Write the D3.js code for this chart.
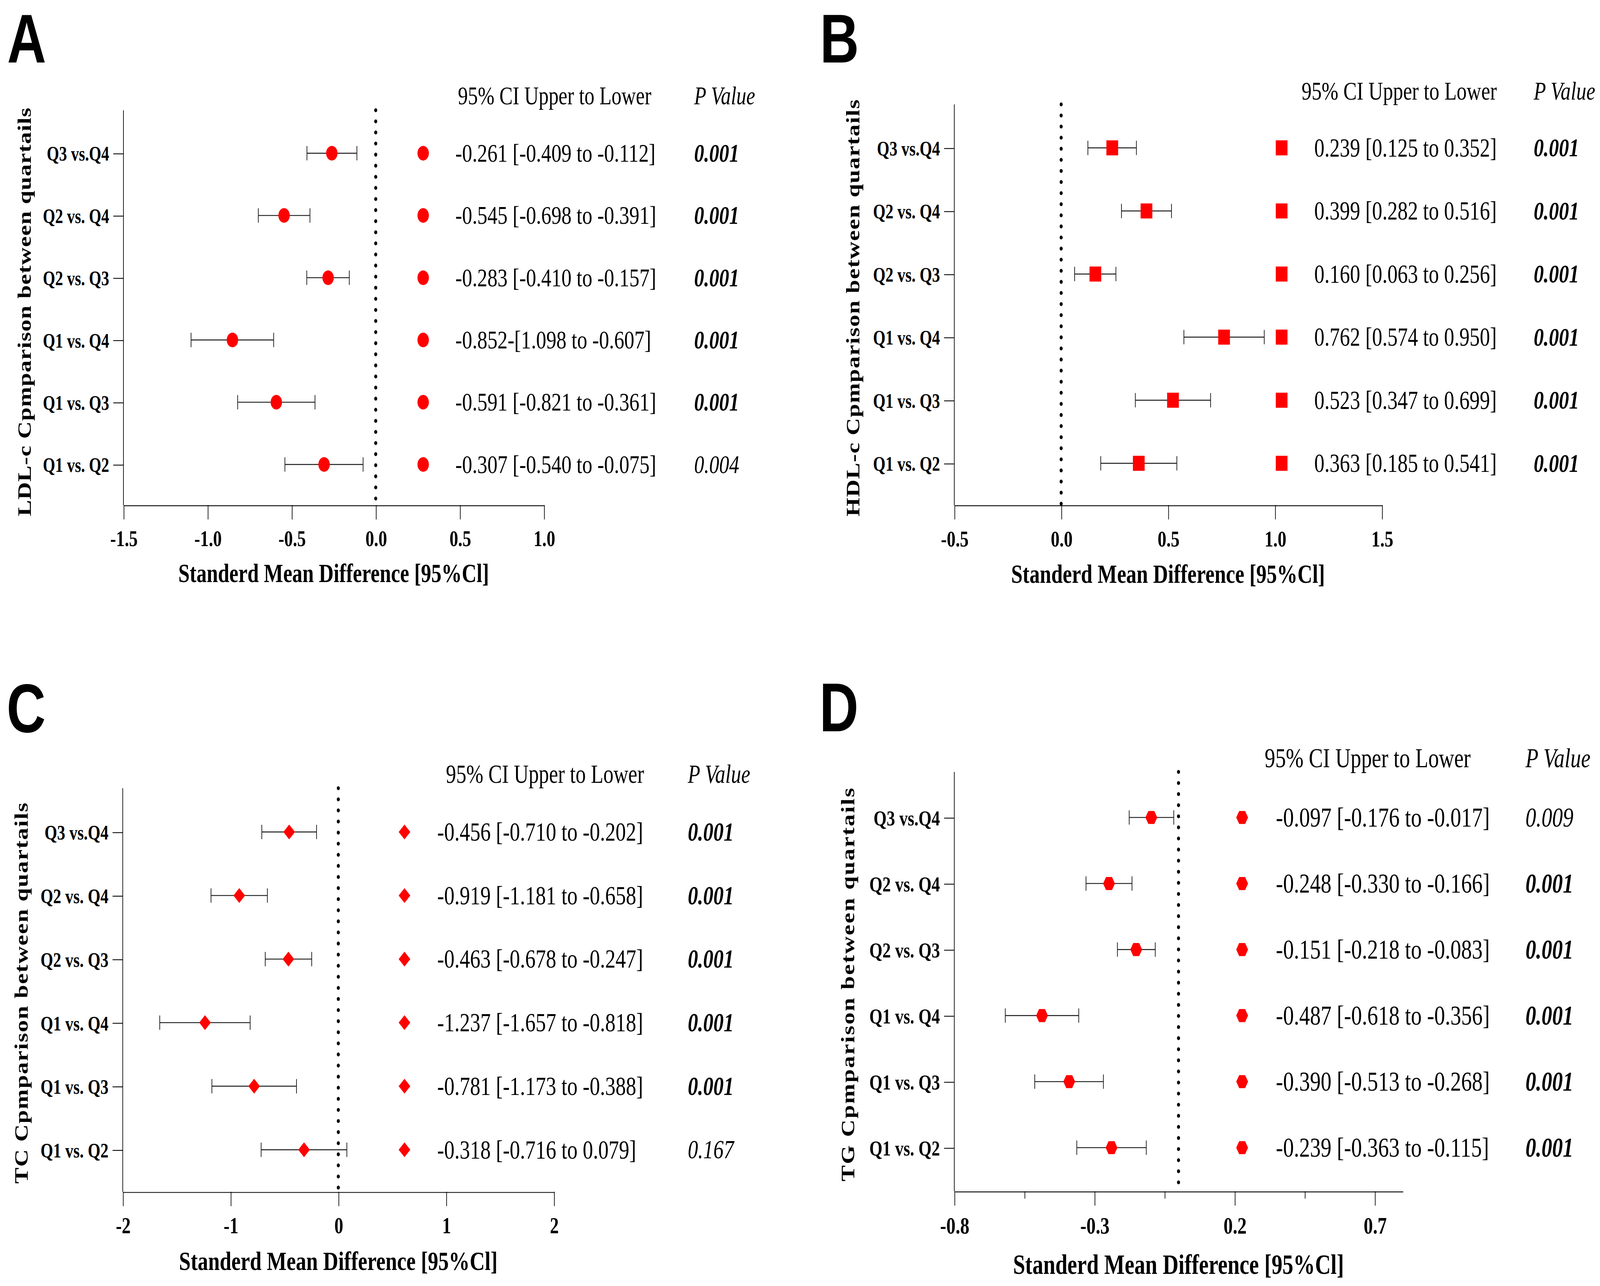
<!DOCTYPE html>
<html>
<head>
<meta charset="utf-8">
<script src="https://cdn.jsdelivr.net/npm/d3@7"></script>
<style>
  html, body { margin: 0; padding: 0; background: #fff; overflow: hidden; }
  #chart svg { display: block; width: 100vw; height: 100vh; }
</style>
</head>
<body>
<div id="chart"></div>
<script>
// rows, top to bottom
const rowLabels = ['Q3 vs.Q4', 'Q2 vs. Q4', 'Q2 vs. Q3', 'Q1 vs. Q4', 'Q1 vs. Q3', 'Q1 vs. Q2'];

// A - LDL-c
const ldlSmd = [-0.261, -0.545, -0.283, -0.852, -0.591, -0.307];
const ldlLow = [-0.409, -0.698, -0.410, -1.098, -0.821, -0.540];
const ldlHigh = [-0.112, -0.391, -0.157, -0.607, -0.361, -0.075];
const ldlP = ['0.001', '0.001', '0.001', '0.001', '0.001', '0.004'];
const ldlTicks = [-1.5, -1.0, -0.5, 0.0, 0.5, 1.0];
// the original figure prints this row with a typo
const ldlCiOverride = { 3: '-0.852-[1.098 to -0.607]' };

// B - HDL-c
const hdlSmd = [0.239, 0.399, 0.160, 0.762, 0.523, 0.363];
const hdlLow = [0.125, 0.282, 0.063, 0.574, 0.347, 0.185];
const hdlHigh = [0.352, 0.516, 0.256, 0.950, 0.699, 0.541];
const hdlP = ['0.001', '0.001', '0.001', '0.001', '0.001', '0.001'];
const hdlTicks = [-0.5, 0.0, 0.5, 1.0, 1.5];

// C - TC
const tcSmd = [-0.456, -0.919, -0.463, -1.237, -0.781, -0.318];
const tcLow = [-0.710, -1.181, -0.678, -1.657, -1.173, -0.716];
const tcHigh = [-0.202, -0.658, -0.247, -0.818, -0.388, 0.079];
const tcP = ['0.001', '0.001', '0.001', '0.001', '0.001', '0.167'];
const tcTicks = [-2, -1, 0, 1, 2];

// D - TG
const tgSmd = [-0.097, -0.248, -0.151, -0.487, -0.390, -0.239];
const tgLow = [-0.176, -0.330, -0.218, -0.618, -0.513, -0.363];
const tgHigh = [-0.017, -0.166, -0.083, -0.356, -0.268, -0.115];
const tgP = ['0.009', '0.001', '0.001', '0.001', '0.001', '0.001'];
const tgTicks = [-0.8, -0.3, 0.2, 0.7];
const tgMinorTicks = [-0.55, -0.05, 0.45];

const serif = '"Times New Roman", "Liberation Serif", serif';
const sans = 'Arial, "Liberation Sans", sans-serif';
const RED = '#ff0000';

// layout of the four panels (units of a 1568 x 985.4 viewBox)
const panels = [
  {
    letter: 'A', letterX: 7, letterY: 48,
    yTitle: 'LDL-c Cpmparison between quartails', yTitleX: 24.3, yTitleY: 239, yTitleLen: 313,
    smd: ldlSmd, low: ldlLow, high: ldlHigh, p: ldlP, ticks: ldlTicks, minor: [], fmt: '.1f',
    override: ldlCiOverride, shape: 'circle',
    domain: [-1.5, 1.0], x0: 121, x1: 533, axisTop: 84.5, axisY: 387, rowTop: 117.4, rowBottom: 355.9,
    headerY: 73.6, headerX: 448.8, markerX: 414.7, textX: 446.3, pX: 680.3, xTitleY: 439.5, fs: 1.0,
  },
  {
    letter: 'B', letterX: 803.5, letterY: 48,
    yTitle: 'HDL-c Cpmparison between quartails', yTitleX: 836, yTitleY: 236, yTitleLen: 319.5,
    smd: hdlSmd, low: hdlLow, high: hdlHigh, p: hdlP, ticks: hdlTicks, minor: [], fmt: '.1f',
    override: {}, shape: 'square',
    domain: [-0.5, 1.5], x0: 935.2, x1: 1354.2, axisTop: 80, axisY: 387, rowTop: 113.3, rowBottom: 355,
    headerY: 69.7, headerX: 1275.5, markerX: 1256, textX: 1288, pX: 1503, xTitleY: 440, fs: 1.01,
  },
  {
    letter: 'C', letterX: 6.5, letterY: 561,
    yTitle: 'TC Cpmparison between quartails', yTitleX: 21, yTitleY: 761, yTitleLen: 292,
    smd: tcSmd, low: tcLow, high: tcHigh, p: tcP, ticks: tcTicks, minor: [], fmt: 'd',
    override: {}, shape: 'diamond',
    domain: [-2, 2], x0: 120.3, x1: 542.8, axisTop: 604, axisY: 913.2, rowTop: 637.5, rowBottom: 881,
    headerY: 593.4, headerX: 437, markerX: 396.4, textX: 428.5, pX: 674, xTitleY: 966.4, fs: 1.025,
  },
  {
    letter: 'D', letterX: 803, letterY: 560.5,
    yTitle: 'TG Cpmparison between quartails', yTitleX: 831, yTitleY: 754.5, yTitleLen: 301.5,
    smd: tgSmd, low: tgLow, high: tgHigh, p: tgP, ticks: tgTicks, minor: tgMinorTicks, fmt: '.1f',
    override: {}, shape: 'hexagon',
    domain: [-0.8, 0.8], x0: 935.2, x1: 1374.7, axisTop: 591.5, axisY: 912.8, rowTop: 626.4, rowBottom: 879.4,
    headerY: 580.9, headerX: 1239.4, markerX: 1217.3, textX: 1250.4, pX: 1495, xTitleY: 969, fs: 1.065,
  },
];

// fill the whole window, whatever its exact size turns out to be
const svg = d3.select('#chart').append('svg')
  .attr('viewBox', '0 0 1568 985.4')
  .attr('preserveAspectRatio', 'none');

svg.append('rect').attr('width', 1568).attr('height', 985.4).attr('fill', '#fff');

// hyphen-minus like the original, not the unicode minus d3 uses
const plain = (spec) => (v) => d3.format(spec)(v).replace('\u2212', '-');
const f3 = plain('.3f');

function markerPath(shape) {
  if (shape === 'circle') return d3.symbol(d3.symbolCircle, Math.PI * 5.6 * 5.6)();
  if (shape === 'square') return d3.symbol(d3.symbolSquare, 11.5 * 11.5)();
  if (shape === 'diamond') {
    const h = 5.7;
    return `M0,${-h}L${h},0L0,${h}L${-h},0Z`;
  }
  // flat-topped hexagon
  const r = 5.8, hh = 5.0;
  return `M${-r},0L${-r / 2},${-hh}L${r / 2},${-hh}L${r},0L${r / 2},${hh}L${-r / 2},${hh}Z`;
}

panels.forEach((p) => {
  const g = svg.append('g');
  const fs = p.fs;

  const x = d3.scaleLinear().domain(p.domain).range([p.x0, p.x1]);
  const y = d3.scalePoint().domain(rowLabels).range([p.rowTop, p.rowBottom]);

  // panel letter
  g.append('text')
    .attr('x', p.letterX)
    .attr('y', p.letterY)
    .attr('font-family', sans)
    .attr('font-weight', 'bold')
    .attr('font-size', 53)
    .text(p.letter);

  // y axis line (full height) + row ticks and labels
  g.append('line')
    .attr('x1', p.x0).attr('x2', p.x0)
    .attr('y1', p.axisTop).attr('y2', p.axisY)
    .attr('stroke', '#000').attr('stroke-width', 0.65);

  const yAxis = g.append('g')
    .attr('transform', `translate(${p.x0},0)`)
    .call(d3.axisLeft(y).tickSize(10).tickPadding(4));
  yAxis.select('.domain').remove();
  yAxis.selectAll('.tick line').attr('stroke', '#000').attr('stroke-width', 0.65);
  yAxis.selectAll('.tick text')
    .attr('font-family', serif)
    .attr('font-weight', 'bold')
    .attr('font-size', 15.5 * fs)
    .attr('fill', '#000')
    .attr('dy', '0.34em');

  // x axis
  const xAxis = g.append('g')
    .attr('transform', `translate(0,${p.axisY})`)
    .call(d3.axisBottom(x).tickValues(p.ticks).tickSize(11).tickSizeOuter(0)
      .tickPadding(8.5).tickFormat(plain(p.fmt)));
  xAxis.select('.domain').attr('stroke', '#000').attr('stroke-width', 0.65);
  xAxis.selectAll('.tick line').attr('stroke', '#000').attr('stroke-width', 0.65);
  xAxis.selectAll('.tick text')
    .attr('font-family', serif)
    .attr('font-weight', 'bold')
    .attr('font-size', 17 * fs)
    .attr('fill', '#000');

  if (p.minor.length) {
    const minorAxis = g.append('g')
      .attr('transform', `translate(0,${p.axisY})`)
      .call(d3.axisBottom(x).tickValues(p.minor).tickSize(5.6).tickFormat(''));
    minorAxis.select('.domain').remove();
    minorAxis.selectAll('.tick line').attr('stroke', '#000').attr('stroke-width', 0.65);
  }

  // dotted line of no effect
  g.append('line')
    .attr('x1', x(0)).attr('x2', x(0))
    .attr('y1', p.axisTop).attr('y2', p.axisY)
    .attr('stroke', '#000')
    .attr('stroke-width', 3)
    .attr('stroke-linecap', 'round')
    .attr('stroke-dasharray', '0 8.5');

  // axis titles
  g.append('text')
    .attr('x', (p.x0 + p.x1) / 2)
    .attr('y', p.xTitleY)
    .attr('dy', '0.33em')
    .attr('text-anchor', 'middle')
    .attr('font-family', serif)
    .attr('font-weight', 'bold')
    .attr('font-size', 20 * fs)
    .text('Standerd Mean Difference [95%Cl]');

  g.append('text')
    .attr('transform', `translate(${p.yTitleX},${p.yTitleY}) rotate(-90)`)
    .attr('dy', '0.33em')
    .attr('text-anchor', 'middle')
    .attr('font-family', serif)
    .attr('font-weight', 'bold')
    .attr('font-size', 18.5)
    .attr('textLength', p.yTitleLen)
    .attr('lengthAdjust', 'spacing')
    .text(p.yTitle);

  // error bars
  const rows = rowLabels.map((lab, i) => ({
    lab, smd: p.smd[i], low: p.low[i], high: p.high[i], p: p.p[i],
    ci: p.override[i] || `${f3(p.smd[i])} [${f3(p.low[i])} to ${f3(p.high[i])}]`,
  }));

  const bars = g.append('g')
    .attr('stroke', '#1a1a1a')
    .attr('stroke-width', 0.7);
  rows.forEach((d) => {
    bars.append('line')
      .attr('x1', x(d.low)).attr('x2', x(d.high))
      .attr('y1', y(d.lab)).attr('y2', y(d.lab));
    [d.low, d.high].forEach((v) => {
      bars.append('line')
        .attr('x1', x(v)).attr('x2', x(v))
        .attr('y1', y(d.lab) - 5.5).attr('y2', y(d.lab) + 5.5);
    });
  });

  const shapePath = markerPath(p.shape);

  g.append('g').selectAll('path')
    .data(rows)
    .join('path')
    .attr('d', shapePath)
    .attr('transform', (d) => `translate(${x(d.smd)},${y(d.lab)})`)
    .attr('fill', RED);

  // right-hand table
  g.append('text')
    .attr('x', p.headerX).attr('y', p.headerY).attr('dy', '0.33em')
    .attr('font-family', serif)
    .attr('font-size', 19.5 * fs)
    .text('95% CI Upper to Lower');

  g.append('text')
    .attr('x', p.pX).attr('y', p.headerY).attr('dy', '0.33em')
    .attr('font-family', serif)
    .attr('font-style', 'italic')
    .attr('font-size', 19.5 * fs)
    .text('P Value');

  g.append('g').selectAll('path')
    .data(rows)
    .join('path')
    .attr('d', shapePath)
    .attr('transform', (d) => `translate(${p.markerX},${y(d.lab)})`)
    .attr('fill', RED);

  g.append('g').selectAll('text')
    .data(rows)
    .join('text')
    .attr('x', p.textX)
    .attr('y', (d) => y(d.lab))
    .attr('dy', '0.33em')
    .attr('font-family', serif)
    .attr('font-size', 19.8 * fs)
    .text((d) => d.ci);

  g.append('g').selectAll('text')
    .data(rows)
    .join('text')
    .attr('x', p.pX)
    .attr('y', (d) => y(d.lab))
    .attr('dy', '0.33em')
    .attr('font-family', serif)
    .attr('font-style', 'italic')
    .attr('font-weight', (d) => (+d.p <= 0.001 ? 'bold' : 'normal'))
    .attr('font-size', 19.6 * fs)
    .text((d) => d.p);
});
</script>
</body>
</html>
